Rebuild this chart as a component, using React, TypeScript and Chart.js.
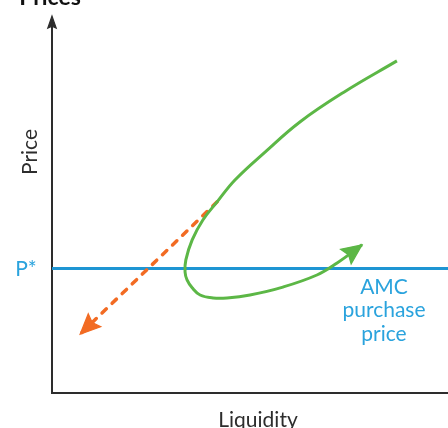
import { useEffect, useRef } from "react";
import { Chart, registerables } from "chart.js";

Chart.register(...registerables);

// ---- data (abstract units: Liquidity 0..10, Price 0..10) ----
const axisMax = 10;
const pStar = 3.3;
const supplyX = [8.71, 7.37, 6.26, 5.38, 4.62, 4.17, 3.81, 3.54, 3.38, 3.36, 3.41, 3.54, 3.74, 4.07, 4.42, 5.0, 5.83, 6.69, 7.2, 7.83];
const supplyY = [8.81, 7.98, 7.19, 6.39, 5.65, 5.07, 4.59, 4.06, 3.53, 3.21, 3.0, 2.79, 2.6, 2.52, 2.52, 2.6, 2.81, 3.13, 3.45, 3.93];
const spiralX = [4.17, 0.71];
const spiralY = [5.07, 1.56];
const titleText = "Prices";
const yAxisLabel = "Price";
const xAxisLabel = "Liquidity";
const pStarLabel = "P*";
const amcLabel = ["AMC", "purchase", "price"];

const GREEN = "#5cb746";
const ORANGE = "#f26b23";
const BLUE = "#1e95d3";
const TEXT_BLUE = "#2aa3dd";
const AXIS = "#2d2d2d";
const FONT = "Lato, 'Open Sans', sans-serif";

function arrowHead(ctx: CanvasRenderingContext2D, tx: number, ty: number, fx: number, fy: number, len: number, half: number, color: string) {
  const a = Math.atan2(ty - fy, tx - fx);
  ctx.save();
  ctx.setLineDash([]);
  ctx.translate(tx, ty);
  ctx.rotate(a);
  ctx.beginPath();
  ctx.moveTo(0, 0);
  ctx.lineTo(-len, -half);
  ctx.lineTo(-len * 0.84, 0);
  ctx.lineTo(-len, half);
  ctx.closePath();
  ctx.fillStyle = color;
  ctx.fill();
  ctx.lineWidth = 1.2;
  ctx.lineJoin = "miter";
  ctx.strokeStyle = color;
  ctx.stroke();
  ctx.restore();
}

const diagramPlugin = {
  id: "diagram",
  beforeDatasetsDraw(chart: any) {
    const { ctx, scales } = chart;
    const x = scales.x;
    const y = scales.y;
    const x0 = x.getPixelForValue(0);
    const y0 = y.getPixelForValue(0);
    const yTop = y.getPixelForValue(axisMax);
    const xRight = x.getPixelForValue(axisMax);
    ctx.save();
    ctx.setLineDash([]);
    ctx.strokeStyle = AXIS;
    ctx.lineWidth = 2;
    ctx.beginPath();
    ctx.moveTo(x0, yTop + 8);
    ctx.lineTo(x0, y0);
    ctx.lineTo(xRight, y0);
    ctx.stroke();
    ctx.restore();
    arrowHead(ctx, x0, yTop, x0, yTop + 20, 12, 4.2, AXIS);
  },
  afterDatasetsDraw(chart: any) {
    const { ctx, scales } = chart;
    const x = scales.x;
    const y = scales.y;
    const gx1 = x.getPixelForValue(supplyX[supplyX.length - 1]);
    const gy1 = y.getPixelForValue(supplyY[supplyY.length - 1]);
    const gx0 = x.getPixelForValue(supplyX[supplyX.length - 2]);
    const gy0 = y.getPixelForValue(supplyY[supplyY.length - 2]);
    arrowHead(ctx, gx1, gy1, gx0, gy0, 20, 9, GREEN);
    const ox1 = x.getPixelForValue(spiralX[1]);
    const oy1 = y.getPixelForValue(spiralY[1]);
    const ox0 = x.getPixelForValue(spiralX[0]);
    const oy0 = y.getPixelForValue(spiralY[0]);
    arrowHead(ctx, ox1, oy1, ox0, oy0, 20, 9, ORANGE);
  },
  afterDraw(chart: any) {
    const { ctx, scales } = chart;
    const x = scales.x;
    const y = scales.y;
    const x0 = x.getPixelForValue(0);
    const y0 = y.getPixelForValue(0);
    const pY = y.getPixelForValue(pStar);
    ctx.save();
    ctx.fillStyle = "#111";
    ctx.font = `bold 23px ${FONT}`;
    ctx.textAlign = "center";
    ctx.textBaseline = "alphabetic";
    ctx.fillText(titleText, x0 - 2, 5);
    ctx.fillStyle = AXIS;
    ctx.font = `21px ${FONT}`;
    ctx.save();
    ctx.translate(x0 - 15, 152);
    ctx.rotate(-Math.PI / 2);
    ctx.textAlign = "center";
    ctx.fillText(yAxisLabel, 0, 0);
    ctx.restore();
    ctx.textAlign = "center";
    ctx.fillText(xAxisLabel, 258, y0 + 34);
    ctx.fillStyle = TEXT_BLUE;
    ctx.font = `21px ${FONT}`;
    ctx.textAlign = "center";
    ctx.textBaseline = "middle";
    ctx.fillText(pStarLabel, 26, pY + 1);
    ctx.textBaseline = "alphabetic";
    amcLabel.forEach((t, i) => {
      ctx.fillText(t, 384, pY + 25 + i * 23.5);
    });
    ctx.restore();
  },
};

export default function App() {
  const ref = useRef<HTMLCanvasElement | null>(null);
  useEffect(() => {
    if (!ref.current) return;
    const chart = new Chart(ref.current, {
      type: "scatter",
      data: {
        datasets: [
          {
            label: "supply",
            data: supplyX.map((v, i) => ({ x: v, y: supplyY[i] })),
            showLine: true,
            borderColor: GREEN,
            borderWidth: 3,
            tension: 0.4,
            pointRadius: 0,
            order: 1,
          },
          {
            label: "spiral",
            data: spiralX.map((v, i) => ({ x: v, y: spiralY[i] })),
            showLine: true,
            borderColor: ORANGE,
            borderWidth: 3.5,
            borderDash: [6, 8],
            borderCapStyle: "round",
            pointRadius: 0,
            order: 2,
          },
          {
            label: "P*",
            data: [
              { x: 0, y: pStar },
              { x: axisMax, y: pStar },
            ],
            showLine: true,
            borderColor: BLUE,
            borderWidth: 3,
            pointRadius: 0,
            order: 3,
          },
        ],
      },
      options: {
        responsive: false,
        maintainAspectRatio: false,
        animation: false,
        layout: { padding: { left: 52, top: 16, right: 0, bottom: 35 } },
        plugins: { legend: { display: false }, tooltip: { enabled: false }, title: { display: false } },
        scales: {
          x: { type: "linear", min: 0, max: axisMax, display: false },
          y: { type: "linear", min: 0, max: axisMax, display: false },
        },
      },
      plugins: [diagramPlugin],
    });
    return () => chart.destroy();
  }, []);
  return (
    <div style={{ position: "absolute", left: 0, top: 0, width: 448, height: 428, background: "#fff" }}>
      <canvas ref={ref} width={448} height={428} style={{ display: "block" }} />
    </div>
  );
}
